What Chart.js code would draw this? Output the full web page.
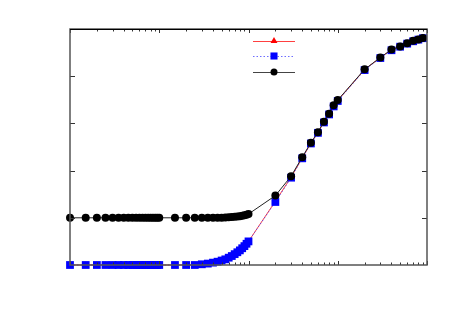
<!DOCTYPE html>
<html>
<head>
<meta charset="utf-8">
<script src="https://cdn.jsdelivr.net/npm/chart.js@4.4.1/dist/chart.umd.min.js"></script>
<style>
	html, body { margin: 0; padding: 0; background: #fff; }
	#canvas01 { display: block; }
</style>
</head>
<body>
<canvas id="canvas01" width="450" height="314"></canvas>
<script>

// x values (log axis, 4 decades)
const xVals = [1, 1.5, 2, 2.5, 3, 3.5, 4, 4.5, 5, 5.5, 6, 6.5, 7, 7.5, 8, 8.5, 9, 9.5,
	10, 15, 20, 25, 30, 35, 40, 45, 50, 55, 60, 65, 70, 75, 80, 85, 90, 95,
	100, 200, 300, 400, 500, 600, 700, 800, 900,
	1000, 2000, 3000, 4000, 5000, 6000, 7000, 8000, 9000];

const redVals = [0, 0, 0, 0, 0, 0, 0, 0, 0, 0, 0, 0, 0, 0, 0, 0, 0, 0,
	0, 0, 0, 0, 0.003, 0.006, 0.01, 0.014, 0.019, 0.024, 0.031, 0.038, 0.046, 0.054, 0.062, 0.071, 0.08, 0.09,
	0.1, 0.27, 0.372, 0.453, 0.516, 0.561, 0.605, 0.639, 0.674,
	0.697, 0.828, 0.879, 0.912, 0.927, 0.94, 0.95, 0.956, 0.962];

const blueVals = [0, 0, 0, 0, 0, 0, 0, 0, 0, 0, 0, 0, 0, 0, 0, 0, 0, 0,
	0, 0, 0, 0, 0.003, 0.006, 0.01, 0.014, 0.019, 0.024, 0.031, 0.038, 0.046, 0.054, 0.062, 0.071, 0.08, 0.09,
	0.1, 0.267, 0.37, 0.452, 0.515, 0.56, 0.604, 0.638, 0.672,
	0.695, 0.826, 0.877, 0.91, 0.925, 0.938, 0.948, 0.955, 0.961];

const blackVals = [0.2, 0.2, 0.2, 0.2, 0.2, 0.2, 0.2, 0.2, 0.2, 0.2, 0.2, 0.2, 0.2, 0.2, 0.2, 0.2, 0.2, 0.2,
	0.2, 0.2, 0.2, 0.2, 0.2, 0.2, 0.2, 0.2, 0.2, 0.201, 0.202, 0.203, 0.204, 0.205, 0.207, 0.209, 0.211, 0.213,
	0.216, 0.294, 0.376, 0.457, 0.518, 0.563, 0.607, 0.641, 0.677,
	0.699, 0.829, 0.879, 0.913, 0.926, 0.94, 0.95, 0.956, 0.962];

const yTicks = [0.2, 0.4, 0.6, 0.8];

function toPts(ys) {
	return xVals.map(function (x, i) { return { x: x, y: ys[i] }; });
}

// frame + inward ticks like the original plot
const frame_ticks = {
	id: 'frame_ticks',
	afterDatasetsDraw(chart) {
		const { ctx, chartArea: { left, top, right, bottom }, scales: { x, y } } = chart;
		ctx.save();
		ctx.strokeStyle = '#333';
		ctx.lineWidth = 1;

		// x ticks (log): majors at decades, minors 2..9
		for (let d = 1; d <= 10000; d *= 10) {
			for (let k = 1; k <= 9; k++) {
				const v = d * k;
				if (v > 10000) break;
				const px = Math.round(x.getPixelForValue(v)) + 0.5;
				const len = (k === 1) ? 4 : 2.5;
				ctx.beginPath();
				ctx.moveTo(px, top); ctx.lineTo(px, top + len);
				ctx.moveTo(px, bottom); ctx.lineTo(px, bottom - len);
				ctx.stroke();
			}
		}
		// y ticks
		yTicks.forEach(function (v) {
			const py = Math.round(y.getPixelForValue(v)) + 0.5;
			ctx.beginPath();
			ctx.moveTo(left, py); ctx.lineTo(left + 5, py);
			ctx.moveTo(right, py); ctx.lineTo(right - 5, py);
			ctx.stroke();
		});

		// frame
		ctx.strokeStyle = '#555';
		ctx.lineWidth = 1.5;
		ctx.strokeRect(left, top, right - left, bottom - top);
		ctx.strokeStyle = '#000';
		ctx.lineWidth = 1;
		ctx.beginPath();
		ctx.moveTo(left, top + 0.5); ctx.lineTo(right, top + 0.5);
		ctx.stroke();
		ctx.restore();
	}
};

// legend with symbols only (no text)
const sym_legend = {
	id: 'sym_legend',
	afterDraw(chart) {
		const ctx = chart.ctx;
		const x0 = 253, x1 = 295, xm = 274;
		const rows = [
			{ y: 41, color: 'rgba(255,0,0,0.75)', dash: [], style: 'triangle', fill: '#ff0000', r: 4 },
			{ y: 56, color: 'rgba(60,60,255,0.75)', dash: [1.5, 2], style: 'rect', fill: '#0000ff', r: 5 },
			{ y: 72, color: '#444', dash: [], style: 'circle', fill: '#000', r: 3.5 }
		];
		ctx.save();
		rows.forEach(function (r) {
			ctx.beginPath();
			ctx.setLineDash(r.dash);
			ctx.strokeStyle = r.color;
			ctx.lineWidth = 1;
			ctx.moveTo(x0, r.y + 0.5);
			ctx.lineTo(x1, r.y + 0.5);
			ctx.stroke();
			ctx.setLineDash([]);
			ctx.fillStyle = r.fill;
			ctx.strokeStyle = r.fill;
			Chart.helpers.drawPoint(ctx, { pointStyle: r.style, radius: r.r, borderWidth: 0 }, xm, r.y);
		});
		ctx.restore();
	}
};

var graf01 = null;

function GrafCurvas() {
	if (graf01 != null) { graf01.destroy(); }

	const chartData = {
		datasets: [{
			label: 'red',
			data: toPts(redVals),
			borderColor: 'rgba(255,0,0,0.75)',
			backgroundColor: '#ff0000',
			borderWidth: 1,
			pointStyle: 'triangle',
			pointRadius: 3.5,
			pointBorderWidth: 0,
			order: 3,
			clip: false
		},
		{
			label: 'blue',
			data: toPts(blueVals),
			borderColor: 'rgba(60,60,255,0.75)',
			backgroundColor: '#0000ff',
			borderWidth: 1,
			borderDash: [1.5, 2],
			pointStyle: 'rect',
			pointRadius: 5.5,
			pointBorderWidth: 0,
			order: 2,
			clip: false
		},
		{
			label: 'black',
			data: toPts(blackVals),
			borderColor: '#222',
			backgroundColor: '#000',
			borderWidth: 1,
			pointStyle: 'circle',
			pointRadius: 4,
			pointBorderWidth: 0,
			order: 1,
			clip: false
		}]
	};

	const config01 = {
		type: 'line',
		data: chartData,
		options: {
			responsive: false,
			animation: false,
			layout: {
				padding: { left: 70, right: 23, top: 29, bottom: 49 }
			},
			plugins: {
				legend: { display: false },
				tooltip: { enabled: false },
				title: { display: false }
			},
			scales: {
				x: {
					type: 'logarithmic',
					min: 1,
					max: 10000,
					display: false
				},
				y: {
					type: 'linear',
					min: 0,
					max: 1,
					display: false
				}
			}
		},
		plugins: [frame_ticks, sym_legend]
	};

	var ctx01 = document.getElementById('canvas01').getContext('2d');
	graf01 = new Chart(ctx01, config01);
}

GrafCurvas();

</script>
</body>
</html>
